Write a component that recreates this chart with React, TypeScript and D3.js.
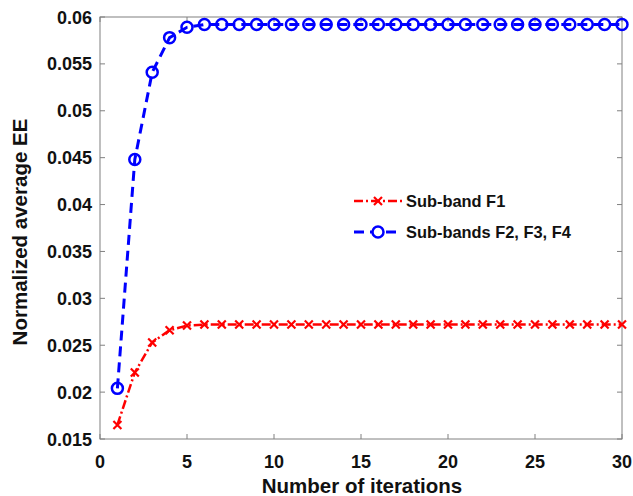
import React from "react"
import * as d3 from "d3"

const iterations = d3.range(1, 31)
const subBandF1 = [0.0165, 0.0221, 0.0253, 0.0266, 0.0271, ...Array(25).fill(0.0272)]
const subBandsF234 = [0.0204, 0.0448, 0.0541, 0.0578, 0.0589, ...Array(25).fill(0.0592)]
const xTicks = [0, 5, 10, 15, 20, 25, 30]
const yTicks = [0.015, 0.02, 0.025, 0.03, 0.035, 0.04, 0.045, 0.05, 0.055, 0.06]

const W = 633
const H = 496
const left = 100
const top = 17
const right = 622
const bottom = 439
const font = "'Liberation Sans', Arial, sans-serif"

export default function App() {
  const x = d3.scaleLinear().domain([0, 30]).range([left, right])
  const y = d3.scaleLinear().domain([0.015, 0.06]).range([bottom, top])

  const line = d3.line<number>()
    .x((_, i) => x(iterations[i]))
    .y(d => y(d))

  const cross = (cx: number, cy: number, s: number, key: string) => (
    <path key={key} d={`M${cx - s},${cy - s}L${cx + s},${cy + s}M${cx - s},${cy + s}L${cx + s},${cy - s}`}
      stroke="#ff0000" strokeWidth={2.2} />
  )

  return (
    <svg width={W} height={H} style={{ position: "absolute", left: 0, top: 0, background: "#fff" }}>
      <rect x={0} y={0} width={W} height={H} fill="#fff" />
      {/* ticks */}
      <g stroke="#808080" strokeWidth={1}>
        {xTicks.map(t => (
          <g key={"xt" + t}>
            <line x1={x(t)} x2={x(t)} y1={bottom} y2={bottom - 5} />
            <line x1={x(t)} x2={x(t)} y1={top} y2={top + 5} />
          </g>
        ))}
        {yTicks.map(t => (
          <g key={"yt" + t}>
            <line x1={left} x2={left + 5} y1={y(t)} y2={y(t)} />
            <line x1={right} x2={right - 5} y1={y(t)} y2={y(t)} />
          </g>
        ))}
        <rect x={left} y={top} width={right - left} height={bottom - top} fill="none" />
      </g>
      <g fontFamily={font} fontWeight="bold" fontSize={18} fill="#111">
        {xTicks.map(t => (
          <text key={"xl" + t} x={x(t)} y={468} textAnchor="middle">{t}</text>
        ))}
        {yTicks.map(t => (
          <text key={"yl" + t} x={92} y={y(t) + 6.5} textAnchor="end">{t}</text>
        ))}
        <text x={362} y={493} textAnchor="middle" fontSize={20.5}>Number of iterations</text>
        <text transform={`translate(27,${232}) rotate(-90)`} textAnchor="middle" fontSize={20.5}>
          Normalized average EE
        </text>
      </g>
      {/* series */}
      <path d={line(subBandF1) || ""} fill="none" stroke="#ff0000" strokeWidth={2.5}
        strokeDasharray="9,3,2,3" />
      {subBandF1.map((v, i) => cross(x(iterations[i]), y(v), 4, "c" + i))}
      <path d={line(subBandsF234) || ""} fill="none" stroke="#0000ff" strokeWidth={3}
        strokeDasharray="10,6" />
      {subBandsF234.map((v, i) => (
        <circle key={"o" + i} cx={x(iterations[i])} cy={y(v)} r={5.5} fill="none" stroke="#0000ff" strokeWidth={2.5} />
      ))}
      {/* legend */}
      <g fontFamily={font} fontWeight="bold" fontSize={16.4} fill="#111">
        <line x1={354} x2={402} y1={201} y2={201} stroke="#ff0000" strokeWidth={2.5} strokeDasharray="9,3,2,3" />
        {cross(378, 201, 4, "lc")}
        <text x={406} y={207}>Sub-band F1</text>
        <line x1={354} x2={402} y1={232} y2={232} stroke="#0000ff" strokeWidth={3} strokeDasharray="10,6" />
        <circle cx={378} cy={232} r={5.5} fill="#fff" stroke="#0000ff" strokeWidth={2.5} />
        <text x={406} y={238}>Sub-bands F2, F3, F4</text>
      </g>
    </svg>
  )
}
